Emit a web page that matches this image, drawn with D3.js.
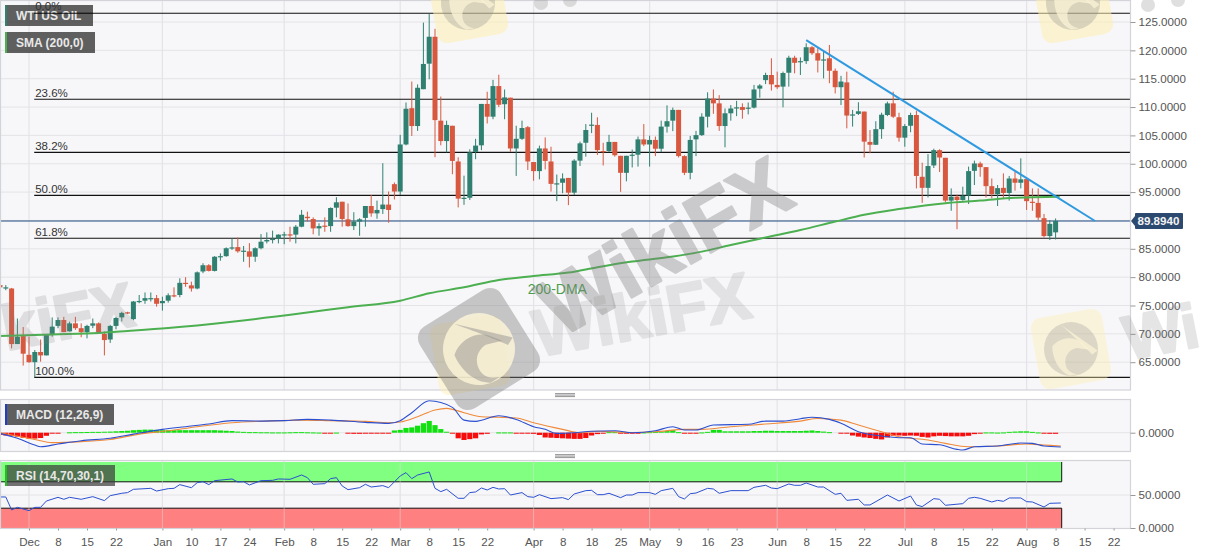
<!DOCTYPE html>
<html><head><meta charset="utf-8">
<script src="https://cdn.jsdelivr.net/npm/d3@7/dist/d3.min.js"></script>
<style>html,body{margin:0;padding:0;background:#fff}svg{display:block}
text{font-family:"Liberation Sans",Arial,sans-serif}</style></head><body>
<svg id="c" width="1207" height="555"></svg>
<script>
const opens=[78.6,78.05,78.0,68.2,69.6,66.3,65.0,66.8,66.2,69.8,
71.4,72.44,70.44,71.85,71.0,70.3,71.44,71.85,70.0,69.0,
71.4,72.9,73.8,72.6,75.7,75.85,76.15,76.3,75.4,75.85,
76.8,76.85,79.0,78.55,78.0,81.0,82.1,81.1,83.6,83.7,
85.15,85.3,84.55,84.55,83.6,85.1,86.3,86.55,86.8,87.45,
87.55,87.5,88.9,90.65,90.25,88.6,89.08,89.0,92.25,93.3,
90.2,89.0,89.8,90.45,92.55,91.25,92.0,92.8,96.4,95.1,
103.4,109.8,106.65,113.15,117.65,122.4,107.6,104.0,106.7,100.4,
93.8,94.0,102.1,103.25,110.55,108.3,113.7,110.5,111.65,102.7,
104.4,106.45,100.3,98.7,102.7,100.4,96.4,96.65,97.5,94.9,
100.55,103.7,106.7,106.85,102.25,102.25,103.85,101.4,98.4,101.4,
101.6,104.3,103.4,104.2,102.65,106.55,107.6,109.5,101.35,98.4,
104.3,105.05,108.3,111.5,110.65,106.65,108.9,109.8,110.0,109.75,
109.9,113.25,114.75,115.65,113.9,113.6,116.05,118.7,117.95,118.1,
120.55,119.5,118.2,118.6,116.4,113.5,114.35,108.55,108.8,109.2,
103.85,103.35,106.1,108.6,110.65,108.2,104.6,106.7,108.6,97.7,
95.75,99.7,102.4,101.05,93.5,94.2,93.6,94.4,98.75,100.05,
99.4,96.05,94.65,95.75,94.85,97.4,96.65,97.3,93.3,93.1,
90.4,87.25,87.9];
const highs=[78.8,78.6,78.1,72.7,71.2,69.5,67.15,69.0,69.8,72.9,
72.9,73.0,72.15,73.0,71.85,71.6,72.7,72.0,70.4,71.6,
73.0,73.9,73.9,75.8,76.85,77.3,77.3,76.85,76.55,77.15,
78.2,79.8,80.0,79.2,81.0,82.45,82.3,83.7,84.2,85.25,
86.8,87.0,85.5,86.0,85.25,87.6,87.9,88.2,87.55,88.0,
88.9,89.2,91.85,91.55,90.55,89.5,90.55,92.3,94.1,93.3,
93.0,91.45,90.4,92.55,94.5,93.5,100.1,95.1,96.7,105.1,
110.8,114.5,114.0,124.9,126.4,123.8,111.85,107.6,106.7,101.15,
97.9,102.55,104.4,110.55,112.7,114.8,115.7,113.1,111.65,106.7,
107.6,106.65,100.3,103.2,104.65,103.0,98.1,98.3,97.5,100.8,
103.9,107.0,109.0,108.2,103.7,105.1,103.85,101.4,101.4,102.5,
104.8,107.0,104.95,104.8,107.6,110.3,109.9,109.5,101.5,104.9,
105.8,108.9,112.6,113.1,112.1,109.75,110.35,111.1,110.65,110.8,
113.9,114.05,116.05,118.6,116.25,116.25,119.05,119.05,118.75,121.25,
120.75,120.55,119.75,120.95,116.8,115.5,116.25,109.5,110.85,109.2,
105.95,107.5,109.0,110.95,112.7,109.0,107.0,109.0,109.35,100.2,
101.7,102.65,102.55,101.05,95.65,94.55,95.95,99.5,100.55,100.35,
99.4,97.4,96.25,98.3,97.85,98.6,100.95,97.6,95.65,95.65,
91.15,90.05,90.35];
const lows=[78.0,77.7,67.44,68.2,64.4,64.9,62.33,65.1,66.2,69.5,
71.0,70.3,70.4,70.7,69.4,69.2,71.0,70.0,66.2,68.4,
70.8,72.2,73.5,72.4,75.4,75.3,75.7,74.8,74.1,75.5,
76.45,76.45,78.3,77.45,77.85,80.7,81.0,81.0,82.9,83.6,
84.8,84.3,82.7,81.7,82.7,84.9,85.95,85.95,85.95,85.8,
86.25,85.95,88.8,89.8,87.55,87.3,88.0,88.0,90.55,88.9,
88.9,88.3,87.3,88.9,90.65,90.3,91.15,89.6,93.7,94.5,
103.25,104.9,105.8,113.15,114.9,101.15,103.25,102.0,98.15,92.3,
92.75,93.6,100.8,102.4,107.1,107.85,110.0,107.85,102.1,97.85,
104.2,98.9,97.0,97.25,99.0,95.1,93.4,94.8,92.7,94.5,
99.6,101.25,105.4,101.55,99.7,102.05,101.25,95.05,96.9,99.35,
99.5,103.1,99.5,101.35,102.05,105.5,105.75,101.1,98.0,97.25,
101.35,104.9,106.4,108.8,105.8,102.9,107.6,108.4,107.95,108.7,
109.75,111.65,114.05,112.9,113.2,109.95,113.6,115.95,115.65,117.6,
119.2,116.1,115.05,114.2,112.4,110.35,106.25,106.55,108.6,101.1,
101.85,103.3,104.4,108.4,108.05,103.9,103.0,105.55,95.65,93.1,
94.05,99.25,98.55,93.2,91.7,88.45,93.5,92.9,96.25,97.7,
94.05,93.9,92.55,93.9,93.5,95.25,95.65,91.85,91.7,90.05,
87.0,86.55,86.65];
const closes=[78.2,78.2,68.2,69.5,66.5,65.0,66.8,66.2,69.8,71.27,
72.44,70.3,71.85,71.0,70.3,71.4,71.85,70.3,68.9,71.4,
72.8,73.7,73.6,75.7,75.8,76.3,76.3,75.3,75.8,76.8,
76.7,79.0,78.9,78.0,80.85,82.1,81.1,83.6,83.7,85.1,
85.25,84.55,84.67,83.6,85.1,86.25,86.55,86.75,87.5,87.55,
87.45,88.9,91.0,90.4,88.6,89.0,88.96,92.2,93.2,90.25,
89.0,89.8,90.2,92.55,91.25,91.85,92.8,91.85,95.1,103.4,
109.7,106.65,113.4,117.6,122.4,107.7,104.0,106.85,100.5,93.85,
94.0,102.0,103.2,110.55,108.3,113.7,110.4,111.7,102.7,104.4,
106.3,100.4,98.7,102.7,100.5,96.45,96.55,97.4,94.9,100.55,
103.6,105.95,106.9,102.4,102.05,103.85,101.5,98.4,101.4,101.6,
104.3,103.4,104.2,102.65,106.55,107.5,109.5,101.35,98.4,104.2,
105.05,108.3,111.5,110.65,106.65,108.9,109.75,109.95,109.5,109.9,
113.1,113.8,115.65,114.0,113.5,116.0,118.7,117.8,118.1,120.55,
119.5,118.2,118.4,116.4,113.5,114.5,108.5,108.7,109.25,103.9,
103.35,106.1,108.65,110.65,108.3,104.6,106.65,108.6,97.85,95.75,
99.6,102.4,101.1,93.5,94.2,93.6,94.35,98.7,100.05,99.4,
96.05,94.65,95.7,94.85,97.4,96.65,97.25,93.4,93.2,90.5,
87.25,89.4,89.9];

const smaIdx=[0,9,17,22,29,40,52,60,69,74,80,86,92,98,103,109,115,121,126,132,138,144,149,155,163,169,175,182.7];
const smaVal=[69.62,69.9,70.15,70.5,71.03,72.14,73.62,74.7,75.85,77.15,78.2,79.5,80.2,80.8,81.75,82.75,83.5,84.5,85.67,87.0,88.3,89.8,91.0,92.0,93.05,93.5,94.0,94.2];
const trendIdx=[139,188.8];
const trendVal=[121.8,89.9];
const fibLevels=[126.53,111.37,102.0,94.43,86.85,62.33];
const fibLabels=["0.0%","23.6%","38.2%","50.0%","61.8%","100.0%"];
const lastPrice=89.894;
const priceTicks=[125,120,115,110,105,100,95,85,80,75,70,65];
const priceGrid=[125,120,115,110,105,100,95,90,85,80,75,70,65];

const macdIdx=[0,3,6,7,10,14,19,23,28,32,36,40,45,49,53,57,63,67,69,71,74,78,80,82,86,89,92,94,96,99,102,106,109,113,116,118,120,123,129,132,135,138,140,143,145,148,152,155,157,159,162,165,166,168,172,176,178,180,182.9];
const macdVal=[-0.24,-2,-4.4,-5,-4.05,-2.85,-2,-0.5,1.2,2.15,3.1,4.3,4.15,4.3,4.75,4.5,3.7,3.35,4.3,7.15,11.4,9.05,4.5,4.05,6.05,4.75,2.15,1.2,-0.25,0,0.5,0.7,0,0.7,2.15,0.95,0.95,2.75,3,4.15,4.15,5,5.5,4.75,3.35,0.35,-1.2,-1.8,-1.8,-4.05,-4.3,-5.95,-6.2,-5,-4.75,-3.7,-3.8,-4.75,-5.1];
const signalIdx=[0,6,9,14,19,24,29,34,40,46,52,57,63,67,69,72,75,77,80,83,86,89,92,97,100,103,109,113,118,121,126,132,138,141,145,148,152,155,160,163,167,172,177,180,182.9];
const signalVal=[0,-2.4,-3.55,-3.2,-2.4,-0.5,0.7,2.15,3.55,4.15,4.5,4.3,4.05,3.55,3.8,5.7,8.1,8.7,7.15,5.7,5.5,5.25,3.55,1.2,0,0.5,0.1,0.35,1.2,1.2,2.15,3.1,4.15,5.1,4.5,2.75,0.35,-1.45,-2.6,-3.8,-5,-4.75,-4.05,-4.4,-4.75];
const histVal=[-.8,-1,-1.1,-1.4,-1.8,-2.1,-2.1,-1.9,-1.1,-.3,
-.2,0,.15,.2,.2,.25,.3,.3,.35,.4,
.5,.6,.7,.9,1,1.1,1.1,1,.9,.9,
.9,.9,.9,.9,.9,.9,.9,.9,.8,.7,
.6,.4,.3,.2,.2,.15,.15,.1,.1,.1,
.15,.2,.2,.15,.1,.05,-.1,-.1,.05,0,
-.3,-.4,-.4,-.3,-.3,-.3,-.2,-.2,.8,1,
1.7,1.9,2.5,3.4,4.2,2.7,1.3,.35,-.3,-2,
-2.6,-2.3,-2,-.6,-.4,0,.1,.1,.1,-.1,
-.3,-.3,-.4,-.8,-1.7,-1.8,-1.9,-2,-2.1,-2.2,
-2.2,-1.9,-1,-.5,-.2,.2,.2,-.2,-.3,-.3,
-.2,.1,.2,.3,.4,.6,.9,.2,-.3,-.3,
-.1,.1,.3,1,1,.5,.5,.5,.5,.5,
.6,.6,.7,.7,.6,.6,.6,.6,.6,.7,
.8,.6,.4,.2,0,-.2,-.3,-1,-1.4,-1.7,
-1.9,-2.2,-2.4,-1.7,-1.1,-1,-1.1,-1,-1.1,-1.5,
-1.7,-1.3,-1.1,-1.2,-1.3,-1.3,-1.3,-1.1,-.5,-.2,
.1,.1,.05,.1,.3,.4,.5,.5,.3,.1,
-.3,-.4,-.4];

const rsiIdx=[0,1,2,3,5,6,7,8,10,11,12,14,16,18,19,21,22,23,26,27,29,30,31,33,34,35,36,37,40,41,42,43,45,47,48,50,52,53,54,56,57,58,59,60,62,63,64,66,67,69,70,71,72,74,75,76,77,79,80,81,82,83,84,85,86,87,88,90,91,92,93,95,97,98,99,101,102,103,104,105,107,108,109,110,112,113,114,116,117,118,119,120,122,123,124,126,129,130,132,133,134,136,137,138,139,141,142,144,145,146,148,149,150,153,155,157,158,159,161,162,163,166,167,168,169,171,172,173,174,176,177,178,180,181,182.9];
const rsiVal=[47,47,27.3,31.3,26.3,31.3,31.3,40.9,46.5,43.5,46.5,43.5,47.5,41.5,49,52.6,53.6,58.6,60.1,56,59.6,60.1,65.7,61.1,68.7,70.2,65.7,71.7,74.3,69.7,70.2,65.2,71.7,72.2,74.3,73.8,80.3,76.3,66.2,67.2,74.8,76.3,63.7,58.1,61.1,66.2,62.1,64.2,61.1,78.8,83.9,74.8,80.3,84.9,60.1,55.1,58.6,45,45,53.6,54.6,60.6,57.6,61.6,59.1,59.6,50,53.6,47.5,46.5,50.5,44.5,46,43,51.5,56.6,57.1,50.5,50.5,52.6,46,50,50,53.6,53.6,51,56.6,60.1,47.5,44,52,53,60.1,59.1,52.6,56.6,56.6,61.6,64.7,60.6,59.6,66.7,64.7,64.7,68.2,62.1,62.1,51,52.6,41.9,43.5,34.9,34.9,50,40.9,48.5,34.9,32.4,44.5,43.5,34.4,36.9,45,46.5,45,39.4,41.9,40.4,45.5,45.5,39.9,39.4,31.8,37.4,37.9];
const rsiBands=[70,30];
const rsiTicks=[50,0];

const xTickIdx=[5,10,15,20,28,33,38,43,49,54,59,64,69,74,79,84,92,97,102,107,112,117,122,127,134,139,144,149,156,161,166,171,177,182,187,192];
const xTickLabels=["Dec","8","15","22","Jan","10","17","24","Feb","8","15","22","Mar","8","15","22","Apr","8","18","25","May","9","16","23","Jun","8","15","22","Jul","8","15","22","Aug","8","15","22"];
const monthIdx=[5,28,49,69,92,112,134,156,177];

const W=1130.5, PANEL={main:[0.5,390],macd:[399.5,451.5],rsi:[460.5,528.5]};
const svg=d3.select("#c");
const x=d3.scaleLinear().domain([0,192]).range([0,1113.6]);
const y=d3.scaleLinear().domain([125,65]).range([22,362.2]);
const yM=d3.scaleLinear().domain([11.93,-6.64]).range([399.3,451.3]);
const yR=d3.scaleLinear().domain([100,0]).range([462,528]);
const defs=svg.append("defs");
[["clipMain","main"],["clipMacd","macd"],["clipRsi","rsi"]].forEach(([id,k])=>{
  defs.append("clipPath").attr("id",id).append("rect").attr("x",0).attr("y",PANEL[k][0]).attr("width",W).attr("height",PANEL[k][1]-PANEL[k][0]);
});
const gridC="#e4e4e8", frameC="#d3d3da", up="#2f8070", down="#d8573f";

function frame(k){
  svg.append("rect").attr("x",0.5).attr("y",PANEL[k][0]).attr("width",W-0.5).attr("height",PANEL[k][1]-PANEL[k][0]).attr("fill","#f7f7f9");
}
["main","macd","rsi"].forEach(frame);

function vgrid(k){
  svg.append("g").selectAll("line").data(monthIdx).join("line")
   .attr("x1",d=>x(d)).attr("x2",d=>x(d)).attr("y1",PANEL[k][0]).attr("y2",PANEL[k][1])
   .attr("stroke",gridC).attr("stroke-width",1.2);
}
["main","macd","rsi"].forEach(vgrid);

svg.append("g").selectAll("line").data(priceGrid).join("line")
  .attr("x1",0).attr("x2",W).attr("y1",d=>y(d)).attr("y2",d=>y(d)).attr("stroke",gridC);
svg.append("line").attr("x1",0).attr("x2",W).attr("y1",yM(0)).attr("y2",yM(0)).attr("stroke",gridC);
svg.append("line").attr("x1",0).attr("x2",W).attr("y1",yR(50)).attr("y2",yR(50)).attr("stroke",gridC);

// MAIN
const gMain=svg.append("g").attr("clip-path","url(#clipMain)");
gMain.append("g").selectAll("line").data(fibLevels).join("line")
  .attr("x1",x(5.9)).attr("x2",W).attr("y1",d=>y(d)).attr("y2",d=>y(d))
  .attr("stroke","#111").attr("stroke-width",1.1);
gMain.append("line").attr("x1",0).attr("x2",W).attr("y1",y(lastPrice)).attr("y2",y(lastPrice)).attr("stroke","#1f4a80").attr("stroke-width",1.1);
const cG=gMain.append("g").selectAll("g").data(opens.map((o,i)=>({i,o,h:highs[i],l:lows[i],c:closes[i]}))).join("g");
cG.append("line").attr("x1",d=>x(d.i)).attr("x2",d=>x(d.i)).attr("y1",d=>y(d.h)).attr("y2",d=>y(d.l))
  .attr("stroke",d=>d.c>=d.o?up:down).attr("stroke-width",1);
cG.append("rect").attr("x",d=>x(d.i)-2.5).attr("width",5)
  .attr("y",d=>y(Math.max(d.o,d.c))).attr("height",d=>Math.max(1.2,Math.abs(y(d.o)-y(d.c))))
  .attr("fill",d=>d.c>=d.o?up:down);
gMain.append("path").datum(smaIdx.map((d,i)=>[d,smaVal[i]]))
  .attr("d",d3.line().x(d=>x(d[0])).y(d=>y(d[1])).curve(d3.curveMonotoneX))
  .attr("fill","none").attr("stroke","#4caf50").attr("stroke-width",2);
gMain.append("path").datum(trendIdx.map((d,i)=>[d,trendVal[i]]))
  .attr("d",d3.line().x(d=>x(d[0])).y(d=>y(d[1])))
  .attr("fill","none").attr("stroke","#2f9ae0").attr("stroke-width",2);
svg.append("g").selectAll("text").data(fibLabels.slice(1)).join("text")
  .attr("x",x(5.9)+1).attr("y",(d,i)=>y(fibLevels[i+1])-2)
  .attr("font-size",11.5).attr("fill","#333").text(d=>d);
svg.append("text").attr("x",x(91)).attr("y",y(77.0)).attr("font-size",14).attr("fill","#4c9e4c").text("200-DMA");

// MACD
const gM=svg.append("g").attr("clip-path","url(#clipMacd)");
gM.append("g").selectAll("rect").data(histVal).join("rect")
  .attr("x",(d,i)=>x(i)-2.6).attr("width",5.2)
  .attr("y",d=>Math.min(yM(d),yM(0))).attr("height",d=>Math.max(d===0?0:1,Math.abs(yM(d)-yM(0))))
  .attr("fill",d=>d>=0?"#10e010":"#f60c0c");
gM.append("path").datum(signalIdx.map((d,i)=>[d,signalVal[i]]))
  .attr("d",d3.line().x(d=>x(d[0])).y(d=>yM(d[1])).curve(d3.curveMonotoneX))
  .attr("fill","none").attr("stroke","#f08a3a").attr("stroke-width",1.1);
gM.append("path").datum(macdIdx.map((d,i)=>[d,macdVal[i]]))
  .attr("d",d3.line().x(d=>x(d[0])).y(d=>yM(d[1])).curve(d3.curveMonotoneX))
  .attr("fill","none").attr("stroke","#2b4fd0").attr("stroke-width",1.1);

// RSI
const rsiEnd=x(183.05);
svg.append("rect").attr("x",0).attr("width",rsiEnd).attr("y",yR(100)).attr("height",yR(70)-yR(100)).attr("fill","#80ff80");
svg.append("rect").attr("x",0).attr("width",rsiEnd).attr("y",yR(30)).attr("height",yR(0)-yR(30)).attr("fill","#ff8080");
svg.append("g").selectAll("line").data(rsiBands).join("line")
  .attr("x1",0).attr("x2",rsiEnd).attr("y1",d=>yR(d)).attr("y2",d=>yR(d)).attr("stroke","#111").attr("stroke-width",1);
svg.append("line").attr("x1",rsiEnd).attr("x2",rsiEnd).attr("y1",yR(100)).attr("y2",yR(70)).attr("stroke","#111");
svg.append("line").attr("x1",rsiEnd).attr("x2",rsiEnd).attr("y1",yR(30)).attr("y2",yR(0)).attr("stroke","#111");
svg.append("g").attr("opacity",.45).selectAll("line").data(monthIdx).join("line")
  .attr("x1",d=>x(d)).attr("x2",d=>x(d)).attr("y1",PANEL.rsi[0]).attr("y2",PANEL.rsi[1]).attr("stroke",gridC);
svg.append("g").attr("clip-path","url(#clipRsi)").append("path").datum(rsiIdx.map((d,i)=>[d,rsiVal[i]]))
  .attr("d",d3.line().x(d=>x(d[0])).y(d=>yR(d[1])))
  .attr("fill","none").attr("stroke","#2b4fd0").attr("stroke-width",1);

// frames
["main","macd","rsi"].forEach(k=>{
  svg.append("rect").attr("x",0.5).attr("y",PANEL[k][0]).attr("width",W-0.5).attr("height",PANEL[k][1]-PANEL[k][0])
    .attr("fill","none").attr("stroke",frameC).attr("stroke-width",1.2);
});

// axes
function styleAxis(g){
  g.select(".domain").remove();
  g.selectAll("line").attr("stroke","#999");
  g.selectAll("text").attr("fill","#555").attr("font-size",11.6).style("font-family",'"Liberation Sans",Arial,sans-serif');
}
const fmt=d3.format(".4f");
svg.append("g").attr("transform",`translate(${W},0)`).call(d3.axisRight(y).tickValues(priceTicks).tickFormat(fmt).tickSize(5).tickPadding(3)).call(styleAxis);
svg.append("g").attr("transform",`translate(${W},0)`).call(d3.axisRight(yM).tickValues([0]).tickFormat(fmt).tickSize(5).tickPadding(3)).call(styleAxis);
svg.append("g").attr("transform",`translate(${W},0)`).call(d3.axisRight(yR).tickValues(rsiTicks).tickFormat(fmt).tickSize(5).tickPadding(3)).call(styleAxis);
svg.append("g").attr("transform",`translate(0,${PANEL.rsi[1]})`)
  .call(d3.axisBottom(x).tickValues(xTickIdx).tickFormat((d,i)=>xTickLabels[i]).tickSize(2).tickPadding(7)).call(styleAxis);

// price tag
const py=y(lastPrice);
svg.append("path").attr("d",`M${W+0.5},${py} l4,-5 v-2 q0,-1 1,-1 h46 q1,0 1,1 v14 q0,1 -1,1 h-46 q-1,0 -1,-1 v-2 z`).attr("fill","#2c4a70");
svg.append("text").attr("x",W+7).attr("y",py+4.2).attr("font-size",11.6).attr("font-weight","bold").attr("fill","#f3f3f3").text(lastPrice.toFixed(4));

// handles
[393.6,454.6].forEach(hy=>{
  [0,1.5,3].forEach(o=>svg.append("line").attr("x1",555).attr("x2",575).attr("y1",hy+o).attr("y2",hy+o).attr("stroke","#888").attr("stroke-width",0.9));
});

// legends
const legends=[["WTI US OIL",5,5,88,"#2f8070",.82],["SMA (200,0)",5,32,90,"#4caf50",.82],["MACD (12,26,9)",5,404,109,"#2040c0",.82],["RSI (14,70,30,1)",5,465,110,"#20c020",.72]];
legends.forEach(([t,lx,ly,w,c,op])=>{
  svg.append("rect").attr("x",lx).attr("y",ly).attr("width",w).attr("height",21).attr("fill","#3d3d3d").attr("opacity",op);
  svg.append("rect").attr("x",lx).attr("y",ly).attr("width",2).attr("height",21).attr("fill",c);
  svg.append("text").attr("x",lx+11).attr("y",ly+15).attr("font-size",12).attr("font-weight","bold").attr("fill","#e8e8e8").text(t);
});
// the 0.0% level line and its label sit over the legend
svg.append("line").attr("x1",x(5.9)).attr("x2",93).attr("y1",y(fibLevels[0])).attr("y2",y(fibLevels[0])).attr("stroke","#111").attr("stroke-width",1.1);
svg.append("text").attr("x",x(5.9)+1).attr("y",y(fibLevels[0])-3).attr("font-size",11.5).attr("fill","#333").text(fibLabels[0]);

// watermarks
const wm=svg.append("g").attr("pointer-events","none");
function word(t,xp,yp,size,rot,op,anchor){
  wm.append("text").attr("transform",`translate(${xp},${yp}) rotate(${rot})`).attr("text-anchor",anchor||"start")
    .attr("font-size",size).attr("font-weight","bold").attr("fill","#808080").attr("stroke","#808080").attr("stroke-width",2.5)
    .attr("stroke-linejoin","round").attr("opacity",op).text(t);
}
const swoosh="M-6,-26 L26,6 L20,9 C14,0 8,-8 -6,-26 Z";
const head="M-18,-6 C-8,-14 6,-12 12,-4 L18,4 L6,0 C-2,0 -8,6 -8,14 C-8,20 -4,24 2,26 L-6,26 C-16,20 -20,6 -18,-6 Z";
function logo(cx,cy,size,rot,tileFill,tileOp,circFill,circOp,eagleFill,eagleOp){
  const g=wm.append("g").attr("transform",`translate(${cx},${cy}) rotate(${rot})`);
  g.append("rect").attr("x",-size/2).attr("y",-size/2).attr("width",size).attr("height",size).attr("rx",size*.14)
    .attr("fill",tileFill).attr("opacity",tileOp);
  g.append("circle").attr("r",size*.375).attr("fill",circFill).attr("opacity",circOp);
  [swoosh,head].forEach(p=>g.append("path").attr("d",p).attr("transform",`scale(${size/72})`).attr("fill",eagleFill).attr("opacity",eagleOp));
}
word("kiFX",137,325,63,-11,.2,"end");
word("Wi",1128,360,62,-11,.2);
word("WikiFX",538,357,66,-10.5,.17);
word("WikiFX",560,338,82,-29.5,.37);
[[541,3,7],[570,0,7],[1148,5,7],[1178,0,7]].forEach(([cx,cy,r])=>wm.append("circle").attr("cx",cx).attr("cy",cy).attr("r",r).attr("fill","#808080").attr("opacity",.25));
logo(470,355,72,-10,"#ffeeb0",.45,"#ffeeb0",0,"#ffeeb0",0);
logo(479,349,96,-32,"#808080",.42,"#fff6d8",.8,"#8a8a8a",.45);
logo(1071,349,72,-10,"#ffeeb0",.4,"#8c8c8c",.28,"#fbf3d6",.75);
logo(1073,3,72,-10,"#ffeeb0",.55,"#8c8c8c",.3,"#fbf3d6",.75);
logo(468,3,72,-10,"#ffeeb0",.55,"#8c8c8c",.3,"#fbf3d6",.75);
</script></body></html>
